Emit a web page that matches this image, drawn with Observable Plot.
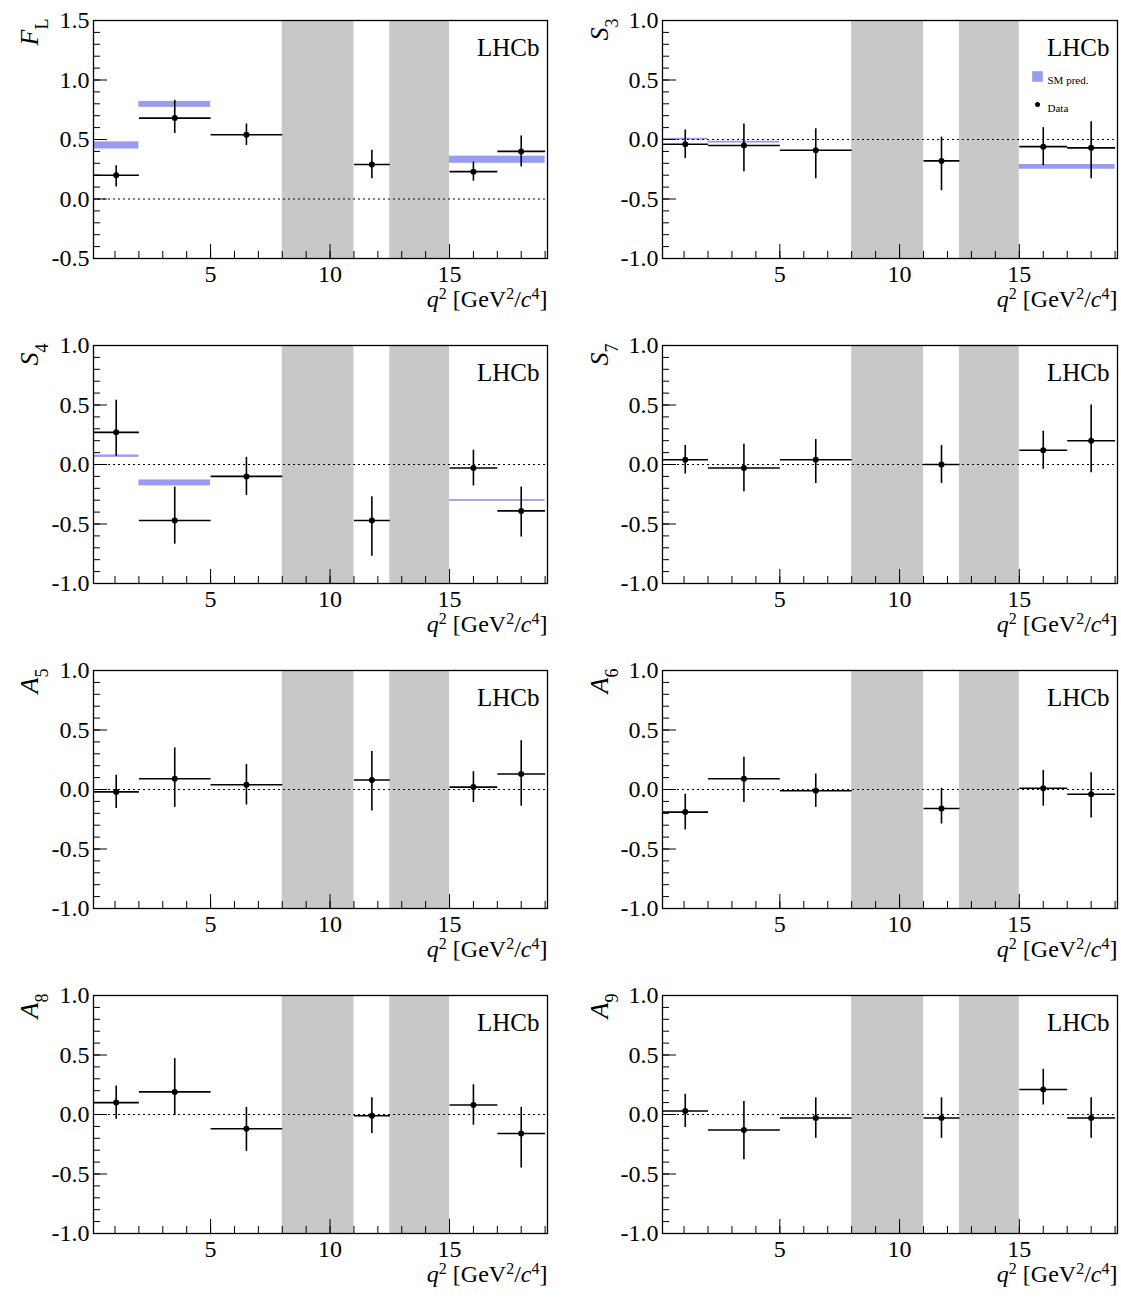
<!DOCTYPE html>
<html>
<head>
<meta charset="utf-8">
<script src="https://cdn.jsdelivr.net/npm/d3@7"></script>
<script src="https://cdn.jsdelivr.net/npm/@observablehq/plot@0.6"></script>
<style>
  body { margin: 0; background: white; }
  #grid { display: grid; grid-template-columns: 560px 561px; width: 1121px; }
  #grid svg { display: block; }
</style>
</head>
<body>
<div id="grid"></div>
<script>
// q2 bins
const binLo = [0.1, 2, 5, 11, 15, 17]
const binHi = [2, 5, 8, 12.5, 17, 19]
const binMid = [1.05, 3.5, 6.5, 11.75, 16, 18]
const vetoLo = [8, 12.5]
const vetoHi = [11, 15]

const names = [["F", "L"], ["S", "3"], ["S", "4"], ["S", "7"], ["A", "5"], ["A", "6"], ["A", "8"], ["A", "9"]]
const values = [
  [0.20, 0.68, 0.54, 0.29, 0.23, 0.40],
  [-0.04, -0.05, -0.09, -0.18, -0.06, -0.07],
  [0.27, -0.47, -0.10, -0.47, -0.03, -0.39],
  [0.04, -0.03, 0.04, 0.00, 0.12, 0.20],
  [-0.02, 0.09, 0.04, 0.08, 0.02, 0.13],
  [-0.19, 0.09, -0.01, -0.16, 0.01, -0.04],
  [0.10, 0.19, -0.12, -0.01, 0.08, -0.16],
  [0.03, -0.13, -0.03, -0.03, 0.21, -0.03]
]
const errUp = [
  [0.08, 0.15, 0.09, 0.12, 0.08, 0.13],
  [0.12, 0.18, 0.18, 0.20, 0.16, 0.22],
  [0.27, 0.28, 0.16, 0.20, 0.15, 0.20],
  [0.12, 0.20, 0.17, 0.16, 0.16, 0.30],
  [0.14, 0.26, 0.17, 0.24, 0.13, 0.28],
  [0.15, 0.18, 0.14, 0.17, 0.15, 0.18],
  [0.14, 0.28, 0.18, 0.15, 0.17, 0.22],
  [0.14, 0.24, 0.17, 0.17, 0.17, 0.17]
]
const errDown = [
  [0.10, 0.13, 0.09, 0.12, 0.08, 0.13],
  [0.12, 0.22, 0.24, 0.25, 0.16, 0.26],
  [0.20, 0.20, 0.16, 0.30, 0.15, 0.22],
  [0.12, 0.20, 0.20, 0.16, 0.16, 0.27],
  [0.14, 0.24, 0.17, 0.26, 0.13, 0.27],
  [0.15, 0.20, 0.14, 0.13, 0.15, 0.20],
  [0.14, 0.20, 0.19, 0.15, 0.17, 0.29],
  [0.14, 0.25, 0.17, 0.17, 0.13, 0.17]
]
// SM predictions: [x1, x2, y1, y2]
const smPred = [
  [[0.1, 2, 0.42, 0.48], [2, 5, 0.77, 0.82], [15, 19, 0.30, 0.36]],
  [[0.1, 2, -0.005, 0.01], [2, 5, -0.03, -0.015], [15, 19, -0.25, -0.21]],
  [[0.1, 2, 0.06, 0.08], [2, 5, -0.18, -0.13], [15, 19, -0.31, -0.295]],
  [], [], [], [], []
]

const xMajor = [5, 10, 15]
const xMinor = d3.range(1, 20)
const font = "Liberation Serif"
const smColor = "#9b9bf0"

function panel(i) {
  const left = i % 2 === 0
  const yDom = i === 0 ? [-0.5, 1.5] : [-1, 1]
  const yMajor = d3.range(yDom[0], yDom[1] + 0.01, 0.5)
  const yMinor = d3.range(yDom[0], yDom[1] + 0.01, 0.1)
  const pts = binMid.map((m, k) => ({m, lo: binLo[k], hi: binHi[k], v: values[i][k], up: values[i][k] + errUp[i][k], dn: values[i][k] - errDown[i][k]}))
  const veto = vetoLo.map((a, k) => ({a, b: vetoHi[k]}))
  const sm = smPred[i].map(d => ({x1: d[0], x2: d[1], y1: d[2], y2: d[3]}))
  const marks = [
    Plot.rect(veto, {x1: "a", x2: "b", y1: yDom[0], y2: yDom[1], fill: "#c8c8c8"}),
    Plot.rect(sm, {x1: "x1", x2: "x2", y1: "y1", y2: "y2", fill: smColor}),
    Plot.ruleY([0], {strokeDasharray: "2,3", stroke: "black"}),
    Plot.link(pts, {x1: "lo", x2: "hi", y1: "v", y2: "v", stroke: "black", strokeWidth: 1.6}),
    Plot.ruleX(pts, {x: "m", y1: "dn", y2: "up", stroke: "black", strokeWidth: 1.6}),
    Plot.dot(pts, {x: "m", y: "v", r: 3, fill: "black"}),
    Plot.axisX({ticks: xMajor, tickSize: -14, tickPadding: 20, tickFormat: d => d, label: null}),
    Plot.axisX({ticks: xMinor, tickSize: -7, tickPadding: 20, tickFormat: () => "", label: null}),
    Plot.axisY({ticks: yMajor, tickSize: -14, tickPadding: 18, tickFormat: d => d.toFixed(1), label: null}),
    Plot.axisY({ticks: yMinor, tickSize: -7, tickPadding: 20, tickFormat: () => "", label: null}),
    Plot.frame({stroke: "black", strokeWidth: 1.3}),
    Plot.text(["LHCb"], {text: d => d, frameAnchor: "top-right", dx: -8, dy: 18, fontSize: 25, textAnchor: "end"}),
    Plot.text(["x"], {text: d => d, frameAnchor: "bottom-right", dy: 48, textAnchor: "end", fontSize: 24, className: "xlab"}),
    Plot.text(["y"], {text: d => d, frameAnchor: "top-left", dx: left ? -74 : -73, dy: -2, rotate: -90, textAnchor: "end", fontSize: 26, className: "ylab"})
  ]
  if (i === 1) {
    marks.push(
      Plot.dot(["sm"], {frameAnchor: "top-right", dx: -80, dy: 56, symbol: "square", r: 6, fill: smColor}),
      Plot.text(["SM pred."], {text: d => d, frameAnchor: "top-right", dx: -70, dy: 56, textAnchor: "start", fontSize: 11}),
      Plot.dot(["data"], {frameAnchor: "top-right", dx: -80, dy: 84, r: 2.5, fill: "black"}),
      Plot.text(["Data"], {text: d => d, frameAnchor: "top-right", dx: -70, dy: 84, textAnchor: "start", fontSize: 11})
    )
  }
  const chart = Plot.plot({
    width: left ? 560 : 561,
    height: 325,
    marginLeft: left ? 93 : 102,
    marginRight: left ? 13 : 4,
    marginTop: 20,
    marginBottom: 67,
    style: {fontFamily: font, fontSize: "24px", color: "black", background: "white", overflow: "visible"},
    x: {domain: [0.1, 19.1]},
    y: {domain: yDom},
    marks
  })
  const sup = t => `<tspan baseline-shift="super" font-size="16">${t}</tspan>`
  const it = t => `<tspan font-style="italic">${t}</tspan>`
  d3.select(chart).selectAll(".xlab text").each(function() {
    this.innerHTML = `${it("q")}${sup("2")} [GeV${sup("2")}/${it("c")}${sup("4")}]`
  })
  d3.select(chart).selectAll(".ylab text").each(function() {
    this.innerHTML = `${it(names[i][0])}<tspan baseline-shift="sub" font-size="18">${names[i][1]}</tspan>`
  })
  return chart
}

const grid = d3.select("#grid")
for (let i = 0; i < 8; i++) grid.append(() => panel(i))
</script>
</body>
</html>
